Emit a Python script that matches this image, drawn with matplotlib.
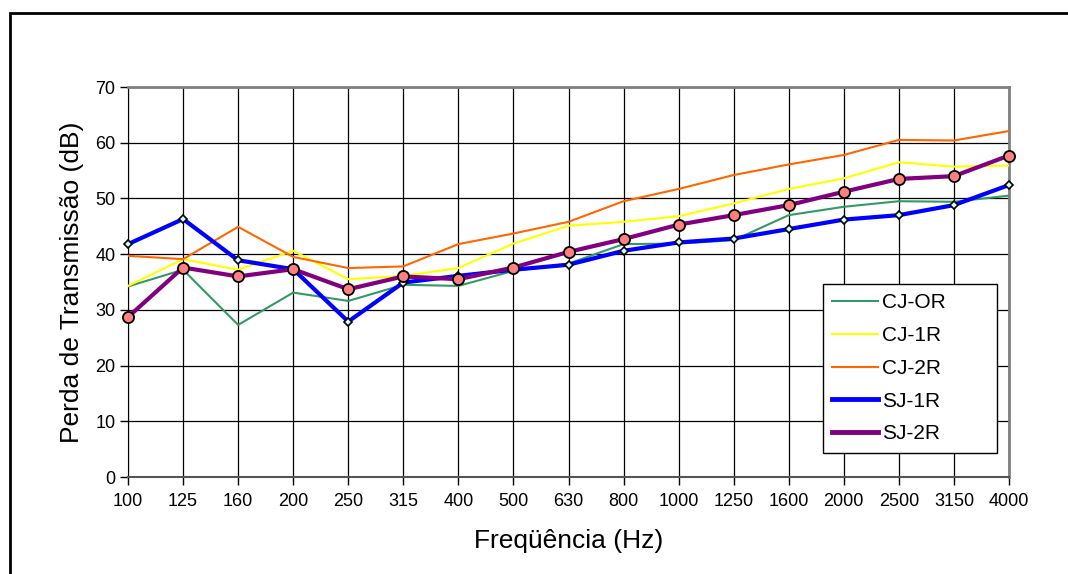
import matplotlib
matplotlib.use("Agg")
import matplotlib.pyplot as plt
from matplotlib.lines import Line2D
from matplotlib.patches import Rectangle

plt.rcParams['font.family'] = ['Liberation Sans', 'DejaVu Sans']

freqs = ["100", "125", "160", "200", "250", "315", "400", "500", "630", "800",
         "1000", "1250", "1600", "2000", "2500", "3150", "4000"]
cj_or = [34.2, 37.2, 27.3, 33.1, 31.6, 34.5, 34.3, 37.0, 38.3, 41.8, 41.9, 42.5, 47.0, 48.5, 49.5, 49.4, 50.5]
cj_1r = [34.3, 39.1, 37.2, 40.6, 35.5, 36.1, 37.5, 41.9, 45.1, 45.8, 46.8, 49.1, 51.7, 53.6, 56.5, 55.7, 55.9]
cj_2r = [39.7, 39.1, 44.9, 39.5, 37.5, 37.8, 41.8, 43.7, 45.8, 49.5, 51.7, 54.2, 56.1, 57.8, 60.5, 60.4, 62.1]
sj_1r = [41.8, 46.3, 38.9, 37.3, 27.9, 34.9, 36.1, 37.2, 38.1, 40.6, 42.1, 42.8, 44.5, 46.2, 47.0, 48.8, 52.4]
sj_2r = [28.7, 37.6, 36.0, 37.3, 33.7, 36.0, 35.5, 37.6, 40.4, 42.7, 45.3, 47.0, 48.8, 51.2, 53.5, 54.0, 57.7]
yticks = [0, 10, 20, 30, 40, 50, 60, 70]

W, H = 1068, 574
fig = plt.figure(figsize=(W / 100, H / 100), dpi=100)
ax = fig.add_axes([128 / W, (H - 477) / H, 881 / W, 390 / H])

x = list(range(len(freqs)))
ax.plot(x, cj_or, color='#339966', lw=1.5, zorder=3)
ax.plot(x, cj_1r, color='#ffff00', lw=1.5, zorder=3)
ax.plot(x, cj_2r, color='#ff6600', lw=1.5, zorder=3)
ax.plot(x, sj_1r, color='#0000ff', lw=3, marker='D', ms=4.5, mfc='#ccffff',
        mec='black', mew=1.2, zorder=4, clip_on=False)
ax.plot(x, sj_2r, color='#800080', lw=3, marker='o', ms=8, mfc='#ff8080',
        mec='black', mew=1.3, zorder=5, clip_on=False)

ax.set_xlim(0, len(freqs) - 1)
ax.set_ylim(0, 70)
ax.set_xticks(x)
ax.set_xticklabels(freqs)
ax.set_yticks(yticks)
ax.tick_params(axis='both', labelsize=13, direction='out', length=5.5, width=1, color='black')
ax.tick_params(axis='x', pad=6)
ax.tick_params(axis='y', pad=3.5)
ax.grid(True, color='black', lw=0.9, zorder=1)
ax.set_axisbelow(True)
for s in ['top', 'right']:
    ax.spines[s].set_color('#808080')
    ax.spines[s].set_linewidth(2)
ax.spines['left'].set_color('black')
ax.spines['bottom'].set_color('#555555')
ax.spines['bottom'].set_linewidth(1.5)

ax.set_xlabel('Freqüência (Hz)', fontsize=19, labelpad=14)
ax.set_ylabel('Perda de Transmissão (dB)', fontsize=19, labelpad=8)

handles = [
    Line2D([], [], color='#339966', lw=1.5),
    Line2D([], [], color='#ffff00', lw=1.5),
    Line2D([], [], color='#ff6600', lw=1.5),
    Line2D([], [], color='#0000ff', lw=3.5),
    Line2D([], [], color='#800080', lw=3.5),
]
labels = ['CJ-OR', 'CJ-1R', 'CJ-2R', 'SJ-1R', 'SJ-2R']
x0 = (823 - 128) / 881
w = (997 - 823) / 881
top = (477 - 284) / 390
bot = (477 - 452) / 390
leg = ax.legend(handles, labels, loc='upper left', mode='expand',
                bbox_to_anchor=(x0, bot, w, top - bot),
                fontsize=15, frameon=True, fancybox=False, edgecolor='black',
                framealpha=1, borderpad=0.45, labelspacing=0.66, handlelength=2.2,
                handletextpad=0.2, borderaxespad=0)
leg.get_frame().set_linewidth(1)
leg.set_zorder(10)

fig.patches.append(Rectangle((9.5 / W, -0.1), 1.2, 1.1 - 13 / H, transform=fig.transFigure,
                             fill=False, edgecolor='black', lw=2, clip_on=False))

fig.savefig('out.png', dpi=100)
